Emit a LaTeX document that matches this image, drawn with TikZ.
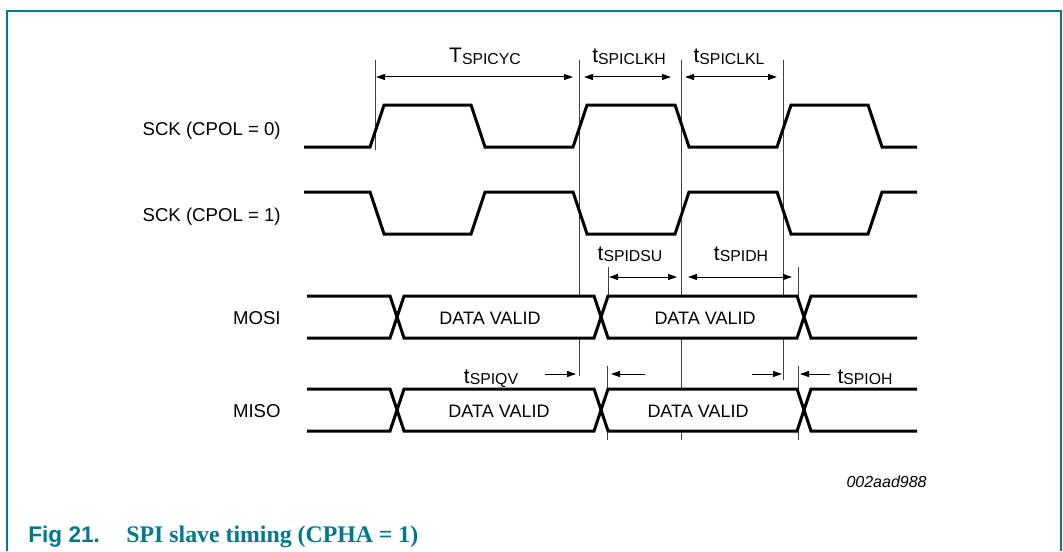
\documentclass[tikz,border=0pt]{standalone}
\usepackage{fontspec}
\setmainfont{Liberation Sans}
\newfontfamily\capserif{Liberation Serif}
\usetikzlibrary{positioning,arrows.meta}
\definecolor{nxpteal}{RGB}{0,120,142}
\newcommand{\tsym}[2]{{\fontsize{10.5}{12}\selectfont #1}{\fontsize{7.9}{9}\selectfont\raisebox{-0.6pt}{#2}}}

\begin{document}
\begin{tikzpicture}[x=0.5pt,y=-0.5pt,
  sig/.style={line width=1.5pt,line join=miter},
  guide/.style={line width=0.45pt,black!75},
  tipone/.style={line width=0.5pt,-{Triangle[length=4.5pt,width=3pt]}},
  tipboth/.style={line width=0.5pt,{Triangle[length=4.5pt,width=3pt]}-{Triangle[length=4.5pt,width=3pt]}},
  siglabel/.style={font=\fontsize{9.3}{11}\selectfont,inner sep=0pt,anchor=east},
  datalabel/.style={font=\fontsize{9}{11}\selectfont,inner sep=0pt},
  tlabel/.style={inner sep=0pt,anchor=base}]
\useasboundingbox (0,0) rectangle (1063,551);
\draw[nxpteal,line width=0.9pt] (7,551) -- (7,11) -- (1061,11) -- (1061,551);

\node[siglabel] (sck0) at (281,131) {SCK (CPOL = 0)};
\node[siglabel] (sck1) at (281,217) {SCK (CPOL = 1)};
\node[siglabel] (mosi) at (281,318) {MOSI};
\node[siglabel] (miso) at (281,411) {MISO};

\coordinate (e0t) at (375,60);  \coordinate (e0b) at (375,150);
\coordinate (e1t) at (579,60);  \coordinate (e1b) at (579,376);
\coordinate (e2t) at (681,60);  \coordinate (e2b) at (681,440);
\coordinate (e3t) at (783,60);  \coordinate (e3b) at (783,380);
\coordinate (d1t) at (608,267); \coordinate (d1m) at (608,296);
\coordinate (d2t) at (798,267); \coordinate (d2m) at (798,296);
\coordinate (q1t) at (607,366); \coordinate (q1b) at (607,440);
\coordinate (q2t) at (798,366); \coordinate (q2b) at (798,440);
\draw[guide] (e0t) -- (e0b);
\draw[guide] (e1t) -- (e1b);
\draw[guide] (e2t) -- (e2b);
\draw[guide] (e3t) -- (e3b);
\draw[guide] (d1t) -- (d1m);
\draw[guide] (d2t) -- (d2m);
\draw[guide] (q1t) -- (q1b);
\draw[guide] (q2t) -- (q2b);

\draw[sig] (304,147) -- (370,147) -- (384,105) -- (471,105) -- (485,147) -- (573,147) -- (587,105) -- (675,105) -- (689,147) -- (777,147) -- (791,105) -- (868,105) -- (882,147) -- (917,147);
\draw[sig] (304,192) -- (370,192) -- (384,234) -- (471,234) -- (485,192) -- (573,192) -- (587,234) -- (675,234) -- (689,192) -- (777,192) -- (791,234) -- (868,234) -- (882,192) -- (917,192);

\foreach \t/\b in {296/338,389/431} {
  \fill[white] (397,{(\t+\b)/2}) -- (404,\t) -- (594,\t) -- (601,{(\t+\b)/2}) -- (594,\b) -- (404,\b) -- cycle;
  \fill[white] (601,{(\t+\b)/2}) -- (608,\t) -- (797,\t) -- (804,{(\t+\b)/2}) -- (797,\b) -- (608,\b) -- cycle;
  \draw[sig] (307,\t) -- (390,\t) -- (404,\b) -- (594,\b) -- (608,\t) -- (797,\t) -- (811,\b) -- (917,\b);
  \draw[sig] (307,\b) -- (390,\b) -- (404,\t) -- (594,\t) -- (608,\b) -- (797,\b) -- (811,\t) -- (917,\t);
}

\node[datalabel] (mosia) at (490,318) {DATA VALID};
\node[datalabel] (mosib) at (705,318) {DATA VALID};
\node[datalabel] (misoa) at (499,411) {DATA VALID};
\node[datalabel] (misob) at (698,411) {DATA VALID};

\coordinate (cycl) at (376,77);  \coordinate (cycr) at (573,77);
\coordinate (clkhl) at (584,77); \coordinate (clkhr) at (671,77);
\coordinate (clkll) at (685,77); \coordinate (clklr) at (777,77);
\coordinate (dsul) at (609,277); \coordinate (dsur) at (677,277);
\coordinate (dhl) at (688,277);  \coordinate (dhr) at (792,277);
\draw[tipboth] (cycl) -- (cycr);
\draw[tipboth] (clkhl) -- (clkhr);
\draw[tipboth] (clkll) -- (clklr);
\draw[tipboth] (dsul) -- (dsur);
\draw[tipboth] (dhl) -- (dhr);

\coordinate (qva) at (545,374); \coordinate (qvb) at (576,374);
\coordinate (qvc) at (645,374); \coordinate (qvd) at (611,374);
\coordinate (oha) at (752,374); \coordinate (ohb) at (782,374);
\coordinate (ohc) at (830,374); \coordinate (ohd) at (800,374);
\draw[tipone] (qva) -- (qvb);
\draw[tipone] (qvc) -- (qvd);
\draw[tipone] (oha) -- (ohb);
\draw[tipone] (ohc) -- (ohd);

\node[tlabel] (tcyc) at (485,63) {\tsym{T}{SPICYC}};
\node[tlabel] (tclkh) at (629,63) {\tsym{t}{SPICLKH}};
\node[tlabel] (tclkl) at (729,63) {\tsym{t}{SPICLKL}};
\node[tlabel] (tdsu) at (630,260) {\tsym{t}{SPIDSU}};
\node[tlabel] (tdh) at (741,260) {\tsym{t}{SPIDH}};
\node[tlabel] (tqv) at (491,383) {\tsym{t}{SPIQV}};
\node[tlabel] (toh) at (865,383) {\tsym{t}{SPIOH}};

\node[inner sep=0pt,anchor=base east,font=\fontsize{8}{10}\selectfont\itshape] (figid) at (927,487) {002aad988};
\node[inner sep=0pt,anchor=base west,text=nxpteal,font=\fontsize{11.3}{13}\selectfont\bfseries] (fignum) at (28,542) {Fig 21.};
\node[inner sep=0pt,anchor=base west,text=nxpteal,font=\capserif\fontsize{11.9}{13}\selectfont\bfseries] (figcap) at (126,542) {SPI slave timing (CPHA = 1)};
\end{tikzpicture}
\end{document}
